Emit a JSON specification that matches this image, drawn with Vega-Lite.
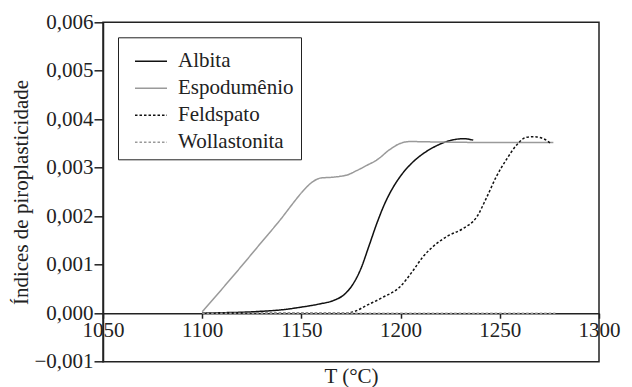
{
  "$schema": "https://vega.github.io/schema/vega-lite/v6.json",
  "width": 496,
  "height": 339.4,
  "autosize": {"type": "none"},
  "padding": {"left": 103, "top": 22.3, "right": 33, "bottom": 25.3},
  "background": "white",
  "data": {
    "values": [
      {"series": "Albita", "T": 1100, "v": 0},
      {"series": "Albita", "T": 1110, "v": 0.00001},
      {"series": "Albita", "T": 1120, "v": 0.00002},
      {"series": "Albita", "T": 1130, "v": 0.00004},
      {"series": "Albita", "T": 1140, "v": 0.00007},
      {"series": "Albita", "T": 1149, "v": 0.00012},
      {"series": "Albita", "T": 1159, "v": 0.00019},
      {"series": "Albita", "T": 1166, "v": 0.00026},
      {"series": "Albita", "T": 1172, "v": 0.0004},
      {"series": "Albita", "T": 1176, "v": 0.0006},
      {"series": "Albita", "T": 1180, "v": 0.00092},
      {"series": "Albita", "T": 1184, "v": 0.00138},
      {"series": "Albita", "T": 1188, "v": 0.00185},
      {"series": "Albita", "T": 1192, "v": 0.00226},
      {"series": "Albita", "T": 1196, "v": 0.00258},
      {"series": "Albita", "T": 1200, "v": 0.00283},
      {"series": "Albita", "T": 1205, "v": 0.00307},
      {"series": "Albita", "T": 1210, "v": 0.00325},
      {"series": "Albita", "T": 1216.5, "v": 0.00342},
      {"series": "Albita", "T": 1224.9, "v": 0.00356},
      {"series": "Albita", "T": 1231.6, "v": 0.0036},
      {"series": "Albita", "T": 1236.6, "v": 0.00357},

      {"series": "Espodumênio", "T": 1100, "v": 0.00003},
      {"series": "Espodumênio", "T": 1110, "v": 0.0005},
      {"series": "Espodumênio", "T": 1120, "v": 0.00098},
      {"series": "Espodumênio", "T": 1130, "v": 0.00147},
      {"series": "Espodumênio", "T": 1140, "v": 0.00196},
      {"series": "Espodumênio", "T": 1146, "v": 0.00228},
      {"series": "Espodumênio", "T": 1151, "v": 0.00253},
      {"series": "Espodumênio", "T": 1156, "v": 0.00272},
      {"series": "Espodumênio", "T": 1160, "v": 0.00279},
      {"series": "Espodumênio", "T": 1164, "v": 0.0028},
      {"series": "Espodumênio", "T": 1169, "v": 0.00282},
      {"series": "Espodumênio", "T": 1173, "v": 0.00285},
      {"series": "Espodumênio", "T": 1177.8, "v": 0.00294},
      {"series": "Espodumênio", "T": 1183, "v": 0.00305},
      {"series": "Espodumênio", "T": 1188, "v": 0.00316},
      {"series": "Espodumênio", "T": 1194.7, "v": 0.00338},
      {"series": "Espodumênio", "T": 1199.7, "v": 0.0035},
      {"series": "Espodumênio", "T": 1204.7, "v": 0.00354},
      {"series": "Espodumênio", "T": 1220, "v": 0.00353},
      {"series": "Espodumênio", "T": 1250, "v": 0.00352},
      {"series": "Espodumênio", "T": 1277, "v": 0.00352},

      {"series": "Feldspato", "T": 1100, "v": 0},
      {"series": "Feldspato", "T": 1140, "v": 0},
      {"series": "Feldspato", "T": 1172, "v": 0},
      {"series": "Feldspato", "T": 1177, "v": 0.00004},
      {"series": "Feldspato", "T": 1182.8, "v": 0.00016},
      {"series": "Feldspato", "T": 1191.2, "v": 0.00033},
      {"series": "Feldspato", "T": 1199.6, "v": 0.00054},
      {"series": "Feldspato", "T": 1206.3, "v": 0.00088},
      {"series": "Feldspato", "T": 1211, "v": 0.00115},
      {"series": "Feldspato", "T": 1216.5, "v": 0.00138},
      {"series": "Feldspato", "T": 1223.2, "v": 0.00158},
      {"series": "Feldspato", "T": 1231.6, "v": 0.00175},
      {"series": "Feldspato", "T": 1238.3, "v": 0.00198},
      {"series": "Feldspato", "T": 1243.4, "v": 0.00239},
      {"series": "Feldspato", "T": 1248.4, "v": 0.00283},
      {"series": "Feldspato", "T": 1253.5, "v": 0.00318},
      {"series": "Feldspato", "T": 1258.5, "v": 0.00347},
      {"series": "Feldspato", "T": 1263.5, "v": 0.00363},
      {"series": "Feldspato", "T": 1266.9, "v": 0.00364},
      {"series": "Feldspato", "T": 1271.9, "v": 0.0036},
      {"series": "Feldspato", "T": 1276.1, "v": 0.00349},

      {"series": "Wollastonita", "T": 1100, "v": 0},
      {"series": "Wollastonita", "T": 1278, "v": 0}
    ]
  },
  "mark": {"type": "line", "interpolate": "monotone", "strokeWidth": 1.5},
  "encoding": {
    "x": {
      "field": "T", "type": "quantitative",
      "scale": {"domain": [1050, 1300], "nice": false, "zero": false},
      "axis": {
        "title": "T (°C)",
        "values": [1050, 1100, 1150, 1200, 1250, 1300],
        "format": "d",
        "offset": -48.5,
        "labelFlush": false,
        "labelOverlap": false,
        "tickSize": 5,
        "labelPadding": 1,
        "titleY": 69,
        "titleBaseline": "alphabetic"
      }
    },
    "y": {
      "field": "v", "type": "quantitative",
      "scale": {"domain": [-0.001, 0.006], "nice": false, "zero": false},
      "axis": {
        "title": "Índices de piroplasticidade",
        "values": [-0.001, 0, 0.001, 0.002, 0.003, 0.004, 0.005, 0.006],
        "labelExpr": "replace(format(datum.value, '.3f'), '.', ',')",
        "tickSize": 9,
        "labelPadding": 1,
        "titlePadding": 2
      }
    },
    "color": {
      "field": "series", "type": "nominal",
      "scale": {
        "domain": ["Albita", "Espodumênio", "Feldspato", "Wollastonita"],
        "range": ["#111111", "#9a9a9a", "#111111", "#9a9a9a"]
      },
      "legend": {"title": null, "labelExpr": "datum.label + '\u00a0\u00a0\u00a0'"}
    },
    "strokeDash": {
      "field": "series", "type": "nominal",
      "scale": {
        "domain": ["Albita", "Espodumênio", "Feldspato", "Wollastonita"],
        "range": [[1, 0], [1, 0], [2.5, 2], [2.5, 2]]
      },
      "legend": {"title": null, "labelExpr": "datum.label + '\u00a0\u00a0\u00a0'"}
    }
  },
  "config": {
    "font": "Liberation Serif",
    "view": {"stroke": "#222222", "strokeWidth": 1.5},
    "axis": {
      "grid": false,
      "domainColor": "#222222",
      "domainWidth": 1.5,
      "tickColor": "#222222",
      "tickWidth": 1.5,
      "labelFont": "Liberation Serif",
      "labelFontSize": 21,
      "labelColor": "#222222",
      "titleFont": "Liberation Serif",
      "titleFontSize": 21,
      "titleFontWeight": "normal",
      "titleColor": "#222222"
    },
    "legend": {
      "orient": "top-left",
      "offset": 15,
      "strokeColor": "#222222",
      "fillColor": "white",
      "padding": 7,
      "symbolOffset": 9,
      "labelFont": "Liberation Serif",
      "labelFontSize": 21,
      "labelColor": "#222222",
      "labelOffset": 10,
      "symbolType": "stroke",
      "symbolSize": 1024,
      "symbolStrokeWidth": 1.5,
      "rowPadding": -6
    }
  }
}
